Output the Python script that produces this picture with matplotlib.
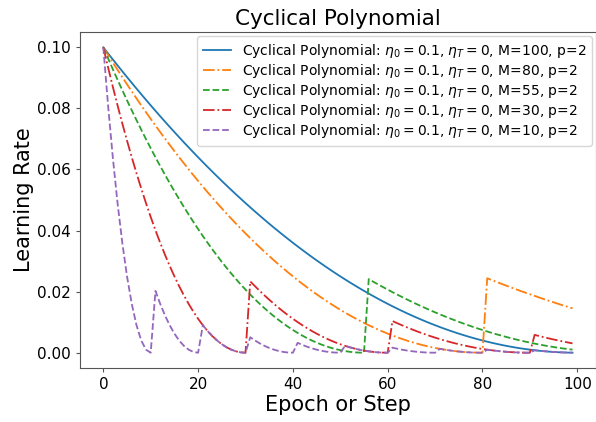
import numpy as np
import matplotlib
matplotlib.use("Agg")
import matplotlib.pyplot as plt

# Epoch index 0..99
epochs = list(range(100))

# M=100 learning rate per epoch
lr_m100 = [
    0.1, 0.09801, 0.09604, 0.09409, 0.09216, 0.09025, 0.08836, 0.08649, 0.08464, 0.08281,
    0.081, 0.07921, 0.07744, 0.07569, 0.07396, 0.07225, 0.07056, 0.06889, 0.06724, 0.06561,
    0.064, 0.06241, 0.06084, 0.05929, 0.05776, 0.05625, 0.05476, 0.05329, 0.05184, 0.05041,
    0.049, 0.04761, 0.04624, 0.04489, 0.04356, 0.04225, 0.04096, 0.03969, 0.03844, 0.03721,
    0.036, 0.03481, 0.03364, 0.03249, 0.03136, 0.03025, 0.02916, 0.02809, 0.02704, 0.02601,
    0.025, 0.02401, 0.02304, 0.02209, 0.02116, 0.02025, 0.01936, 0.01849, 0.01764, 0.01681,
    0.016, 0.01521, 0.01444, 0.01369, 0.01296, 0.01225, 0.01156, 0.01089, 0.01024, 0.00961,
    0.009, 0.00841, 0.00784, 0.00729, 0.00676, 0.00625, 0.00576, 0.00529, 0.00484, 0.00441,
    0.004, 0.00361, 0.00324, 0.00289, 0.00256, 0.00225, 0.00196, 0.00169, 0.00144, 0.00121,
    0.001, 0.00081, 0.00064, 0.00049, 0.00036, 0.00025, 0.00016, 0.00009, 0.00004, 0.00001,
]

# M=80
lr_m80 = [
    0.1, 0.09752, 0.09506, 0.09264, 0.09025, 0.08789, 0.08556, 0.08327, 0.081, 0.07877,
    0.07656, 0.07439, 0.07225, 0.07014, 0.06806, 0.06602, 0.064, 0.06202, 0.06006, 0.05814,
    0.05625, 0.05439, 0.05256, 0.05077, 0.049, 0.04727, 0.04556, 0.04389, 0.04225, 0.04064,
    0.03906, 0.03752, 0.036, 0.03452, 0.03306, 0.03164, 0.03025, 0.02889, 0.02756, 0.02627,
    0.025, 0.02377, 0.02256, 0.02139, 0.02025, 0.01914, 0.01806, 0.01702, 0.016, 0.01502,
    0.01406, 0.01314, 0.01225, 0.01139, 0.01056, 0.00977, 0.009, 0.00827, 0.00756, 0.00689,
    0.00625, 0.00564, 0.00506, 0.00452, 0.004, 0.00352, 0.00306, 0.00264, 0.00225, 0.00189,
    0.00156, 0.00127, 0.001, 0.00077, 0.00056, 0.00039, 0.00025, 0.00014, 0.00006, 0.00002,
    0.0, 0.02438, 0.02377, 0.02316, 0.02256, 0.02197, 0.02139, 0.02082, 0.02025, 0.01969,
    0.01914, 0.0186, 0.01806, 0.01754, 0.01702, 0.0165, 0.016, 0.0155, 0.01502, 0.01454,
]

# M=55
lr_m55 = [
    0.1, 0.0964, 0.09286, 0.08939, 0.08598, 0.08264, 0.07937, 0.07617, 0.07302, 0.06995,
    0.06694, 0.064, 0.06112, 0.05831, 0.05557, 0.05289, 0.05028, 0.04774, 0.04526, 0.04284,
    0.0405, 0.03821, 0.036, 0.03385, 0.03177, 0.02975, 0.0278, 0.02592, 0.0241, 0.02235,
    0.02066, 0.01904, 0.01749, 0.016, 0.01458, 0.01322, 0.01193, 0.01071, 0.00955, 0.00846,
    0.00744, 0.00648, 0.00559, 0.00476, 0.004, 0.00331, 0.00268, 0.00212, 0.00162, 0.00119,
    0.00083, 0.00053, 0.0003, 0.00013, 0.00003, 0.0, 0.0241, 0.02321, 0.02235, 0.0215,
    0.02066, 0.01984, 0.01904, 0.01826, 0.01749, 0.01674, 0.016, 0.01528, 0.01458, 0.01389,
    0.01322, 0.01257, 0.01193, 0.01131, 0.01071, 0.01012, 0.00955, 0.009, 0.00846, 0.00794,
    0.00744, 0.00695, 0.00648, 0.00602, 0.00559, 0.00517, 0.00476, 0.00437, 0.004, 0.00364,
    0.00331, 0.00298, 0.00268, 0.00239, 0.00212, 0.00186, 0.00162, 0.0014, 0.00119, 0.001,
]

# M=30
lr_m30 = [
    0.1, 0.09344, 0.08711, 0.081, 0.07511, 0.06944, 0.064, 0.05878, 0.05378, 0.049,
    0.04444, 0.04011, 0.036, 0.03211, 0.02844, 0.025, 0.02178, 0.01878, 0.016, 0.01344,
    0.01111, 0.009, 0.00711, 0.00544, 0.004, 0.00278, 0.00178, 0.001, 0.00044, 0.00011,
    0.0, 0.02336, 0.02178, 0.02025, 0.01878, 0.01736, 0.016, 0.01469, 0.01344, 0.01225,
    0.01111, 0.01003, 0.009, 0.00803, 0.00711, 0.00625, 0.00544, 0.00469, 0.004, 0.00336,
    0.00278, 0.00225, 0.00178, 0.00136, 0.001, 0.00069, 0.00044, 0.00025, 0.00011, 0.00003,
    0.0, 0.01038, 0.00968, 0.009, 0.00835, 0.00772, 0.00711, 0.00653, 0.00598, 0.00544,
    0.00494, 0.00446, 0.004, 0.00357, 0.00316, 0.00278, 0.00242, 0.00209, 0.00178, 0.00149,
    0.00123, 0.001, 0.00079, 0.0006, 0.00044, 0.00031, 0.0002, 0.00011, 0.00005, 0.00001,
    0.0, 0.00584, 0.00544, 0.00506, 0.00469, 0.00434, 0.004, 0.00367, 0.00336, 0.00306,
]

# M=10
lr_m10 = [
    0.1, 0.081, 0.064, 0.049, 0.036, 0.025, 0.016, 0.009, 0.004, 0.001,
    0.0, 0.02025, 0.016, 0.01225, 0.009, 0.00625, 0.004, 0.00225, 0.001, 0.00025,
    0.0, 0.009, 0.00711, 0.00544, 0.004, 0.00278, 0.00178, 0.001, 0.00044, 0.00011,
    0.0, 0.00506, 0.004, 0.00306, 0.00225, 0.00156, 0.001, 0.00056, 0.00025, 0.00006,
    0.0, 0.00324, 0.00256, 0.00196, 0.00144, 0.001, 0.00064, 0.00036, 0.00016, 0.00004,
    0.0, 0.00225, 0.00178, 0.00136, 0.001, 0.00069, 0.00044, 0.00025, 0.00011, 0.00003,
    0.0, 0.00165, 0.00131, 0.001, 0.00073, 0.00051, 0.00033, 0.00018, 0.00008, 0.00002,
    0.0, 0.00127, 0.001, 0.00077, 0.00056, 0.00039, 0.00025, 0.00014, 0.00006, 0.00002,
    0.0, 0.001, 0.00079, 0.0006, 0.00044, 0.00031, 0.0002, 0.00011, 0.00005, 0.00001,
    0.0, 0.00081, 0.00064, 0.00049, 0.00036, 0.00025, 0.00016, 0.00009, 0.00004, 0.00001,
]

cycle_lengths = [100, 80, 55, 30, 10]
series = [lr_m100, lr_m80, lr_m55, lr_m30, lr_m10]
styles = ["-", "-.", "--", "-.", "--"]

fig = plt.figure(figsize=(5.96, 4.22), dpi=100)
ax = fig.add_axes([0.134, 0.128, 0.866, 0.796])

for m, lr, ls in zip(cycle_lengths, series, styles):
    ax.plot(epochs, lr, ls, lw=1.3,
            label=rf"Cyclical Polynomial: $\eta_0 = 0.1$, $\eta_T = 0$, M={m}, p=2")

ax.set_title("Cyclical Polynomial", fontsize=15.5, pad=5)
ax.set_xlabel("Epoch or Step", fontsize=15, labelpad=2)
ax.set_ylabel("Learning Rate", fontsize=15, labelpad=2)
ax.tick_params(labelsize=11, color="#555555", length=3)
for sp in ax.spines.values():
    sp.set_color("#555555")
ax.legend(fontsize=10, loc="upper right", labelspacing=0.15,
          borderaxespad=0.3)

fig.savefig("out.png", dpi=100)
